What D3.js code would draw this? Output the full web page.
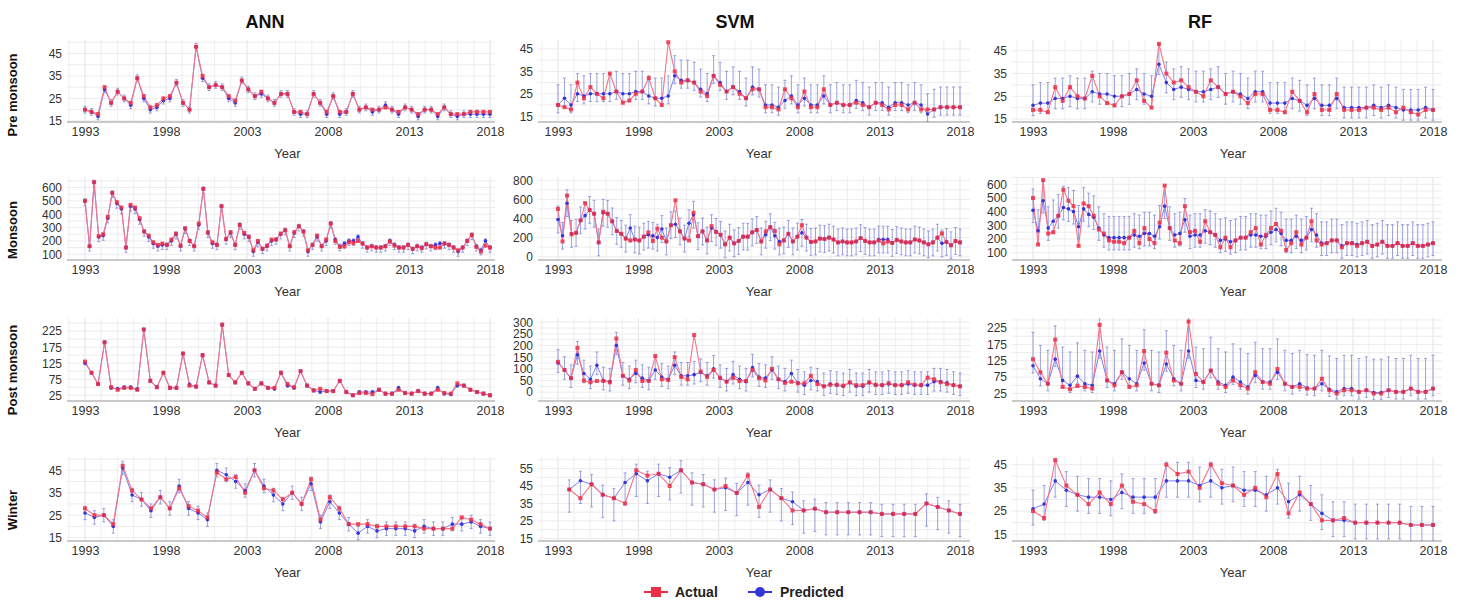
<!DOCTYPE html>
<html>
<head>
<meta charset="utf-8">
<script src="https://cdn.jsdelivr.net/npm/d3@7/dist/d3.min.js"></script>
<style>
  body { margin: 0; background: #fff; }
  text { font-family: "Liberation Sans", Arial, sans-serif; }
</style>
</head>
<body>
<svg id="chart" width="1465" height="605"></svg>
<script>
(function() {

  // ---- data ----
  var models = ['ANN', 'SVM', 'RF'];
  var seasons = ['Pre monsoon', 'Monsoon', 'Post monsoon', 'Winter'];
  var xTicks = [1993, 1998, 2003, 2008, 2013, 2018];
  var yearSpan = [1993, 2018];
  var svmWinterSpan = [1993.7, 2018];

  var yTicksANN = [[15, 25, 35, 45], [100, 200, 300, 400, 500, 600], [25, 75, 125, 175, 225], [15, 25, 35, 45]];
  var yTicksSVM = [[15, 25, 35, 45], [0, 200, 400, 600, 800], [0, 50, 100, 150, 200, 250, 300], [15, 25, 35, 45, 55]];
  var yTicksRF  = [[15, 25, 35, 45], [100, 200, 300, 400, 500, 600], [25, 75, 125, 175, 225], [15, 25, 35, 45]];

  // error bar reach above / below the prediction, per season
  var errUpANN = [1.5, 15, 5, 3],   errDownANN = [1.5, 35, 5, 3];
  var errUpSVM = [9, 140, 57, 5.5], errDownSVM = [3.5, 140, 40, 13];
  var errUpRF  = [9, 155, 102, 8],  errDownRF  = [4.5, 90, 22, 7];

  // pre monsoon
  var preActual = [20,19,18,30,23,28,25,23,34,26, 21,22,25,26,32,23,20,48,35,30, 31,30,26,24,33,29,26,28,25,23,
    27,27,19,19,18,27,23,19,26,19, 19,27,20,21,20,20,21,20,19,21, 20,18,20,20,18,21,18,18,18,19, 19,19,19];
  var preANNPred = [20,19,17,29,23,28,25,22,34,25, 20,21,24,25,32,23,20,48,34,30, 31,30,25,23,33,29,26,27,25,23,
    27,27,19,18,18,27,23,18,26,18, 19,27,20,21,19,20,22,20,18,21, 20,17,20,20,17,21,18,17,18,18, 18,18,18];
  var preSVMPred = [20,23,20,25,24,25,25,25,25,26, 25,25,26,26,24,23,23,24,33,31, 31,30,27,25,33,30,26,28,26,23,
    28,27,20,20,19,22,24,20,23,20, 20,24,20,21,20,20,22,21,19,21, 21,19,21,21,20,21,20,16,18,19, 19,19,19];
  var preRFActual = [19,19,18,29,23,29,25,24,34,25, 22,21,25,26,32,23,20,48,35,31, 32,29,27,25,32,29,26,27,25,22,
    26,26,19,19,18,27,23,18,26,19, 19,26,19,19,19,20,20,19,20,18, 20,18,17,19,19];
  var preRFPred = [21,22,22,24,24,25,24,24,27,26, 26,25,25,26,28,26,25,39,31,28, 29,28,27,27,28,29,26,27,26,24,
    27,27,22,22,22,24,23,21,24,21, 21,24,20,20,20,20,21,20,21,20, 19,19,19,20,19];

  // monsoon
  var monActual = [500,160,640,235,250,380,560,490,450,150, 470,450,370,270,240,190,170,180,170,210,
    255,165,295,200,160,330,590,265,190,170, 460,215,265,170,320,260,230,130,200,140,
    165,210,210,255,280,160,265,310,270,130, 170,240,160,210,330,200,155,160,190,185,
    200,180,150,160,150,150,160,195,165,150, 150,170,140,160,145,175,160,150,150,180,
    170,150,130,150,200,245,155,120,165,150];
  var monANNPred = [500,160,640,230,240,370,560,480,440,150, 460,440,360,270,230,180,160,170,170,200,
    250,160,290,200,160,320,590,260,180,170, 460,210,260,170,320,250,230,120,190,140,
    160,200,210,250,280,160,260,310,270,120, 170,230,160,200,330,210,160,180,200,200,
    230,180,150,160,150,150,160,200,170,150, 150,170,140,160,150,175,160,170,180,180,
    170,150,120,150,200,245,160,130,200,150];
  var monSVMPred = [390,220,560,240,250,380,430,490,450,150, 460,450,370,270,240,190,300,180,170,210,
    230,220,200,290,160,330,340,265,190,350, 440,215,265,170,300,260,230,130,200,140,
    165,210,210,255,280,160,230,310,220,160, 170,240,160,210,250,200,155,160,190,185,
    200,180,150,160,150,150,160,195,165,150, 150,180,180,180,145,175,160,150,150,180,
    170,150,130,150,200,140,155,120,165,150];
  var monRFActual = [500,160,630,240,250,370,560,480,440,150, 460,440,370,270,240,190,180,180,170,210,
    260,170,280,200,170,320,590,280,190,170, 440,250,260,180,330,250,230,140,210,140,
    190,210,210,250,280,160,230,280,310,260, 120,170,250,160,210,330,190,160,170,190,
    190,140,170,170,150,170,180,150,160,180, 150,150,170,150,150,170,150,150,160,170];
  var monRFPred = [410,260,480,280,330,370,430,420,400,290, 420,380,360,280,230,210,210,210,210,210,
    230,220,240,240,220,290,440,280,230,240, 340,220,230,230,260,250,230,190,200,180,
    190,210,210,230,230,220,220,250,270,240, 190,190,220,190,210,270,230,170,170,190,
    190,150,170,170,160,170,180,150,160,180, 150,150,170,150,150,170,150,150,160,170];

  // post monsoon
  var postActual = [130,95,60,190,50,42,48,48,42,230, 70,50,95,48,48,155,55,52,150,65,
    55,245,88,65,95,62,45,62,48,48, 95,60,50,100,55,40,45,38,38,70,
    35,25,32,32,28,42,30,30,42,32, 30,38,30,30,42,32,30,62,55,42, 35,30,25];
  var postANNPred = [125,95,60,190,48,45,50,50,44,230, 70,50,95,48,48,155,58,52,150,65,
    55,245,88,65,95,62,45,62,48,45, 95,55,48,100,55,40,35,38,38,70,
    35,25,35,35,35,42,30,30,48,32, 30,38,30,30,48,30,28,55,55,42, 35,30,25];
  var postSVMPred = [125,95,60,160,80,55,115,50,45,200, 70,55,80,60,50,95,65,55,115,70,
    70,75,85,70,100,60,45,75,55,45, 105,65,60,95,55,45,80,40,30,50,
    45,25,35,30,25,40,25,25,40,30, 30,35,30,30,35,30,30,30,45,45, 40,30,25];
  var postRFActual = [130,90,55,190,45,38,48,45,40,235, 65,50,90,45,50,155,55,50,150,65,
    55,245,85,60,95,55,45,65,50,40, 90,60,55,100,55,45,45,40,40,70,
    35,25,35,35,30,35,25,25,35,30, 30,40,30,30,40];
  var postRFPred = [110,70,55,130,65,50,78,55,50,155, 65,55,90,70,55,118,55,50,115,70,
    55,155,65,60,95,60,50,75,60,45, 80,60,60,90,55,45,55,42,40,55,
    38,30,40,40,30,35,28,28,35,30, 30,40,30,30,40];

  // winter
  var winANNActual = [28,25,25,21,47,36,32,28,33,28, 37,29,27,24,44,41,42,35,45,37,
    36,32,35,30,41,23,33,28,21,21, 21,20,20,20,20,20,19,19,19,19, 24,23,21,19];
  var winANNPred = [26,24,25,20,46,34,32,27,33,28, 38,28,26,23,45,43,40,36,45,38,
    34,30,35,30,39,22,31,26,21,17, 20,18,19,19,19,18,20,19,19,21, 21,22,20,19];
  var winSVMActual = [43,38,46,40,38,35,54,51,52,45, 54,47,46,43,45,41,51,33,43,38,
    31,31,32,30,30,30,30,30,29,29, 29,29,35,33,31,29];
  var winSVMPred = [43,48,46,40,38,47,52,48,52,50, 54,47,46,43,44,41,47,40,43,38,
    36,31,32,30,30,30,30,30,29,29, 29,29,35,33,31,29];
  var winRFActual = [25,22,47,36,32,28,33,28,36,29, 28,25,45,41,42,35,45,37,36,32,
    35,31,41,24,33,28,21,21,22,20, 20,20,20,20,19,19,19];
  var winRFPred = [26,28,38,34,32,31,31,30,33,31, 31,31,38,38,38,36,38,35,36,34,
    34,32,35,29,32,28,24,21,21,20, 20,20,20,20,19,19,19];

  // ---- panel table built from the arrays ----
  var actuals = {
    ANN: [preActual, monActual, postActual, winANNActual],
    SVM: [preActual, monActual, postActual, winSVMActual],
    RF:  [preRFActual, monRFActual, postRFActual, winRFActual]
  };
  var preds = {
    ANN: [preANNPred, monANNPred, postANNPred, winANNPred],
    SVM: [preSVMPred, monSVMPred, postSVMPred, winSVMPred],
    RF:  [preRFPred, monRFPred, postRFPred, winRFPred]
  };
  var errUp = { ANN: errUpANN, SVM: errUpSVM, RF: errUpRF };
  var errDown = { ANN: errDownANN, SVM: errDownSVM, RF: errDownRF };
  var yTicks = { ANN: yTicksANN, SVM: yTicksSVM, RF: yTicksRF };

  // ---- layout ----
  var cols = [
    { left: 67,   right: 495,  x0: 85,   x1: 490,  title: 265 },
    { left: 538,  right: 970,  x0: 558,  x1: 960,  title: 735 },
    { left: 1012, right: 1442, x0: 1033, x1: 1433, title: 1200 }
  ];
  var rows = [
    { top: 40,  bottom: 122, label: 95 },
    { top: 177, bottom: 260, label: 230 },
    { top: 318, bottom: 401, label: 370 },
    { top: 457, bottom: 541, label: 510 }
  ];
  var domains = [
    [[14.5, 51], [12.4, 49], [13.7, 49.7]],
    [[57, 679], [-34, 834], [47, 653]],
    [[7, 266], [-38, 318], [2, 256]],
    [[13.5, 50.9], [13.5, 61.6], [12.1, 48.3]]
  ];
  var minorStep = [[5, 5, 5], [50, 100, 50], [25, 25, 25], [5, 5, 5]];

  var red = '#ec2f48', redLine = '#f4758a',
      blue = '#3636d8', blueLine = '#7e7ef0',
      barColor = '#7c84d2';

  var svg = d3.select('#chart');

  // column titles
  models.forEach(function(m, c) {
    svg.append('text')
      .attr('x', cols[c].title).attr('y', 28)
      .attr('text-anchor', 'middle')
      .style('font-size', '18px').style('font-weight', 'bold')
      .style('fill', '#111')
      .text(m);
  });

  // row labels
  seasons.forEach(function(s, r) {
    svg.append('text')
      .attr('transform', 'translate(17,' + rows[r].label + ') rotate(-90)')
      .attr('text-anchor', 'middle')
      .style('font-size', '13px').style('font-weight', 'bold')
      .style('fill', '#111')
      .text(s);
  });

  var clipId = 0;

  function drawPanel(c, r) {
    var m = models[c], L = cols[c], R = rows[r];
    var actual = actuals[m][r], pred = preds[m][r];
    var span = (m === 'SVM' && r === 3) ? svmWinterSpan : yearSpan;
    var up = errUp[m][r], down = errDown[m][r];

    var x = d3.scaleLinear().domain([1993, 2018]).range([L.x0, L.x1]);
    var y = d3.scaleLinear().domain(domains[r][c]).range([R.bottom, R.top]);
    var t = d3.scaleLinear().domain([0, actual.length - 1]).range(span);

    var g = svg.append('g');
    var id = 'clip' + (clipId++);
    g.append('clipPath').attr('id', id)
      .append('rect')
      .attr('x', L.left).attr('y', R.top)
      .attr('width', L.right - L.left).attr('height', R.bottom - R.top);

    // grid
    var x0 = x.invert(L.left), x1 = x.invert(L.right);
    g.selectAll('.vgrid').data(d3.range(Math.ceil(x0), x1, 1)).enter()
      .append('line')
      .attr('x1', x).attr('x2', x)
      .attr('y1', R.top).attr('y2', R.bottom)
      .attr('stroke', function(d) { return (d - 1993) % 5 === 0 ? '#e2e2e2' : '#efefef'; })
      .attr('stroke-width', 1);

    var dom = domains[r][c], step = minorStep[r][c];
    g.selectAll('.hgrid').data(d3.range(Math.ceil(dom[0] / step) * step, dom[1], step)).enter()
      .append('line')
      .attr('x1', L.left).attr('x2', L.right)
      .attr('y1', y).attr('y2', y)
      .attr('stroke', '#ececec')
      .attr('stroke-width', 1);

    // axes
    var yAxis = g.append('g')
      .attr('transform', 'translate(' + L.left + ',0)')
      .call(d3.axisLeft(y).tickValues(yTicks[m][r]).tickSize(0).tickPadding(5));
    yAxis.select('.domain').remove();
    yAxis.selectAll('text').style('font-size', '12px').style('fill', '#333')
      .style('font-family', '"Liberation Sans", Arial, sans-serif');

    var xAxis = g.append('g')
      .attr('transform', 'translate(0,' + R.bottom + ')')
      .call(d3.axisBottom(x).tickValues(xTicks).tickSize(0).tickPadding(5).tickFormat(d3.format('d')));
    xAxis.select('.domain').remove();
    xAxis.selectAll('text').style('font-size', '12.5px').style('fill', '#333')
      .style('font-family', '"Liberation Sans", Arial, sans-serif');

    g.append('line')
      .attr('x1', L.left).attr('x2', L.right)
      .attr('y1', R.bottom).attr('y2', R.bottom)
      .attr('stroke', '#c9c9c9').attr('stroke-width', 2);

    g.append('text')
      .attr('x', x(2005.5)).attr('y', R.bottom + 36)
      .attr('text-anchor', 'middle')
      .style('font-size', '13px').style('fill', '#333')
      .text('Year');

    var plot = g.append('g').attr('clip-path', 'url(#' + id + ')');

    // error bars round the prediction
    var bars = plot.selectAll('.bar').data(pred).enter().append('g');
    bars.append('line')
      .attr('x1', function(d, i) { return x(t(i)); })
      .attr('x2', function(d, i) { return x(t(i)); })
      .attr('y1', function(d) { return y(d + up); })
      .attr('y2', function(d) { return y(d - down); });
    bars.append('line')
      .attr('x1', function(d, i) { return x(t(i)) - 1.5; })
      .attr('x2', function(d, i) { return x(t(i)) + 1.5; })
      .attr('y1', function(d) { return y(d + up); })
      .attr('y2', function(d) { return y(d + up); });
    bars.append('line')
      .attr('x1', function(d, i) { return x(t(i)) - 1.5; })
      .attr('x2', function(d, i) { return x(t(i)) + 1.5; })
      .attr('y1', function(d) { return y(d - down); })
      .attr('y2', function(d) { return y(d - down); });
    bars.selectAll('line')
      .attr('stroke', barColor).attr('stroke-width', 1).attr('stroke-opacity', 0.75);

    var line = d3.line()
      .x(function(d, i) { return x(t(i)); })
      .y(function(d) { return y(d); });

    plot.append('path').datum(pred)
      .attr('d', line).attr('fill', 'none')
      .attr('stroke', blueLine).attr('stroke-width', 1);

    plot.append('path').datum(actual)
      .attr('d', line).attr('fill', 'none')
      .attr('stroke', redLine).attr('stroke-width', 1.1);

    plot.selectAll('.pp').data(pred).enter()
      .append('circle')
      .attr('cx', function(d, i) { return x(t(i)); })
      .attr('cy', function(d) { return y(d); })
      .attr('r', 1.8)
      .attr('fill', blue);

    plot.selectAll('.ap').data(actual).enter()
      .append('rect')
      .attr('x', function(d, i) { return x(t(i)) - 2; })
      .attr('y', function(d) { return y(d) - 2; })
      .attr('width', 4).attr('height', 4)
      .attr('fill', red).attr('fill-opacity', 0.85);
  }

  for (var r = 0; r < seasons.length; r++)
    for (var c = 0; c < models.length; c++) drawPanel(c, r);

  // legend
  var lg = svg.append('g').attr('transform', 'translate(0,592)');
  lg.append('line').attr('x1', 644).attr('x2', 668).attr('y1', 0).attr('y2', 0)
    .attr('stroke', red).attr('stroke-width', 2);
  lg.append('rect').attr('x', 651).attr('y', -5).attr('width', 10).attr('height', 10).attr('fill', red);
  lg.append('text').attr('x', 675).attr('y', 5)
    .style('font-size', '14px').style('font-weight', 'bold').style('fill', '#222')
    .text('Actual');
  lg.append('line').attr('x1', 748).attr('x2', 772).attr('y1', 0).attr('y2', 0)
    .attr('stroke', blue).attr('stroke-width', 2);
  lg.append('circle').attr('cx', 760).attr('cy', 0).attr('r', 5).attr('fill', blue);
  lg.append('text').attr('x', 780).attr('y', 5)
    .style('font-size', '14px').style('font-weight', 'bold').style('fill', '#222')
    .text('Predicted');

})();
</script>
</body>
</html>
